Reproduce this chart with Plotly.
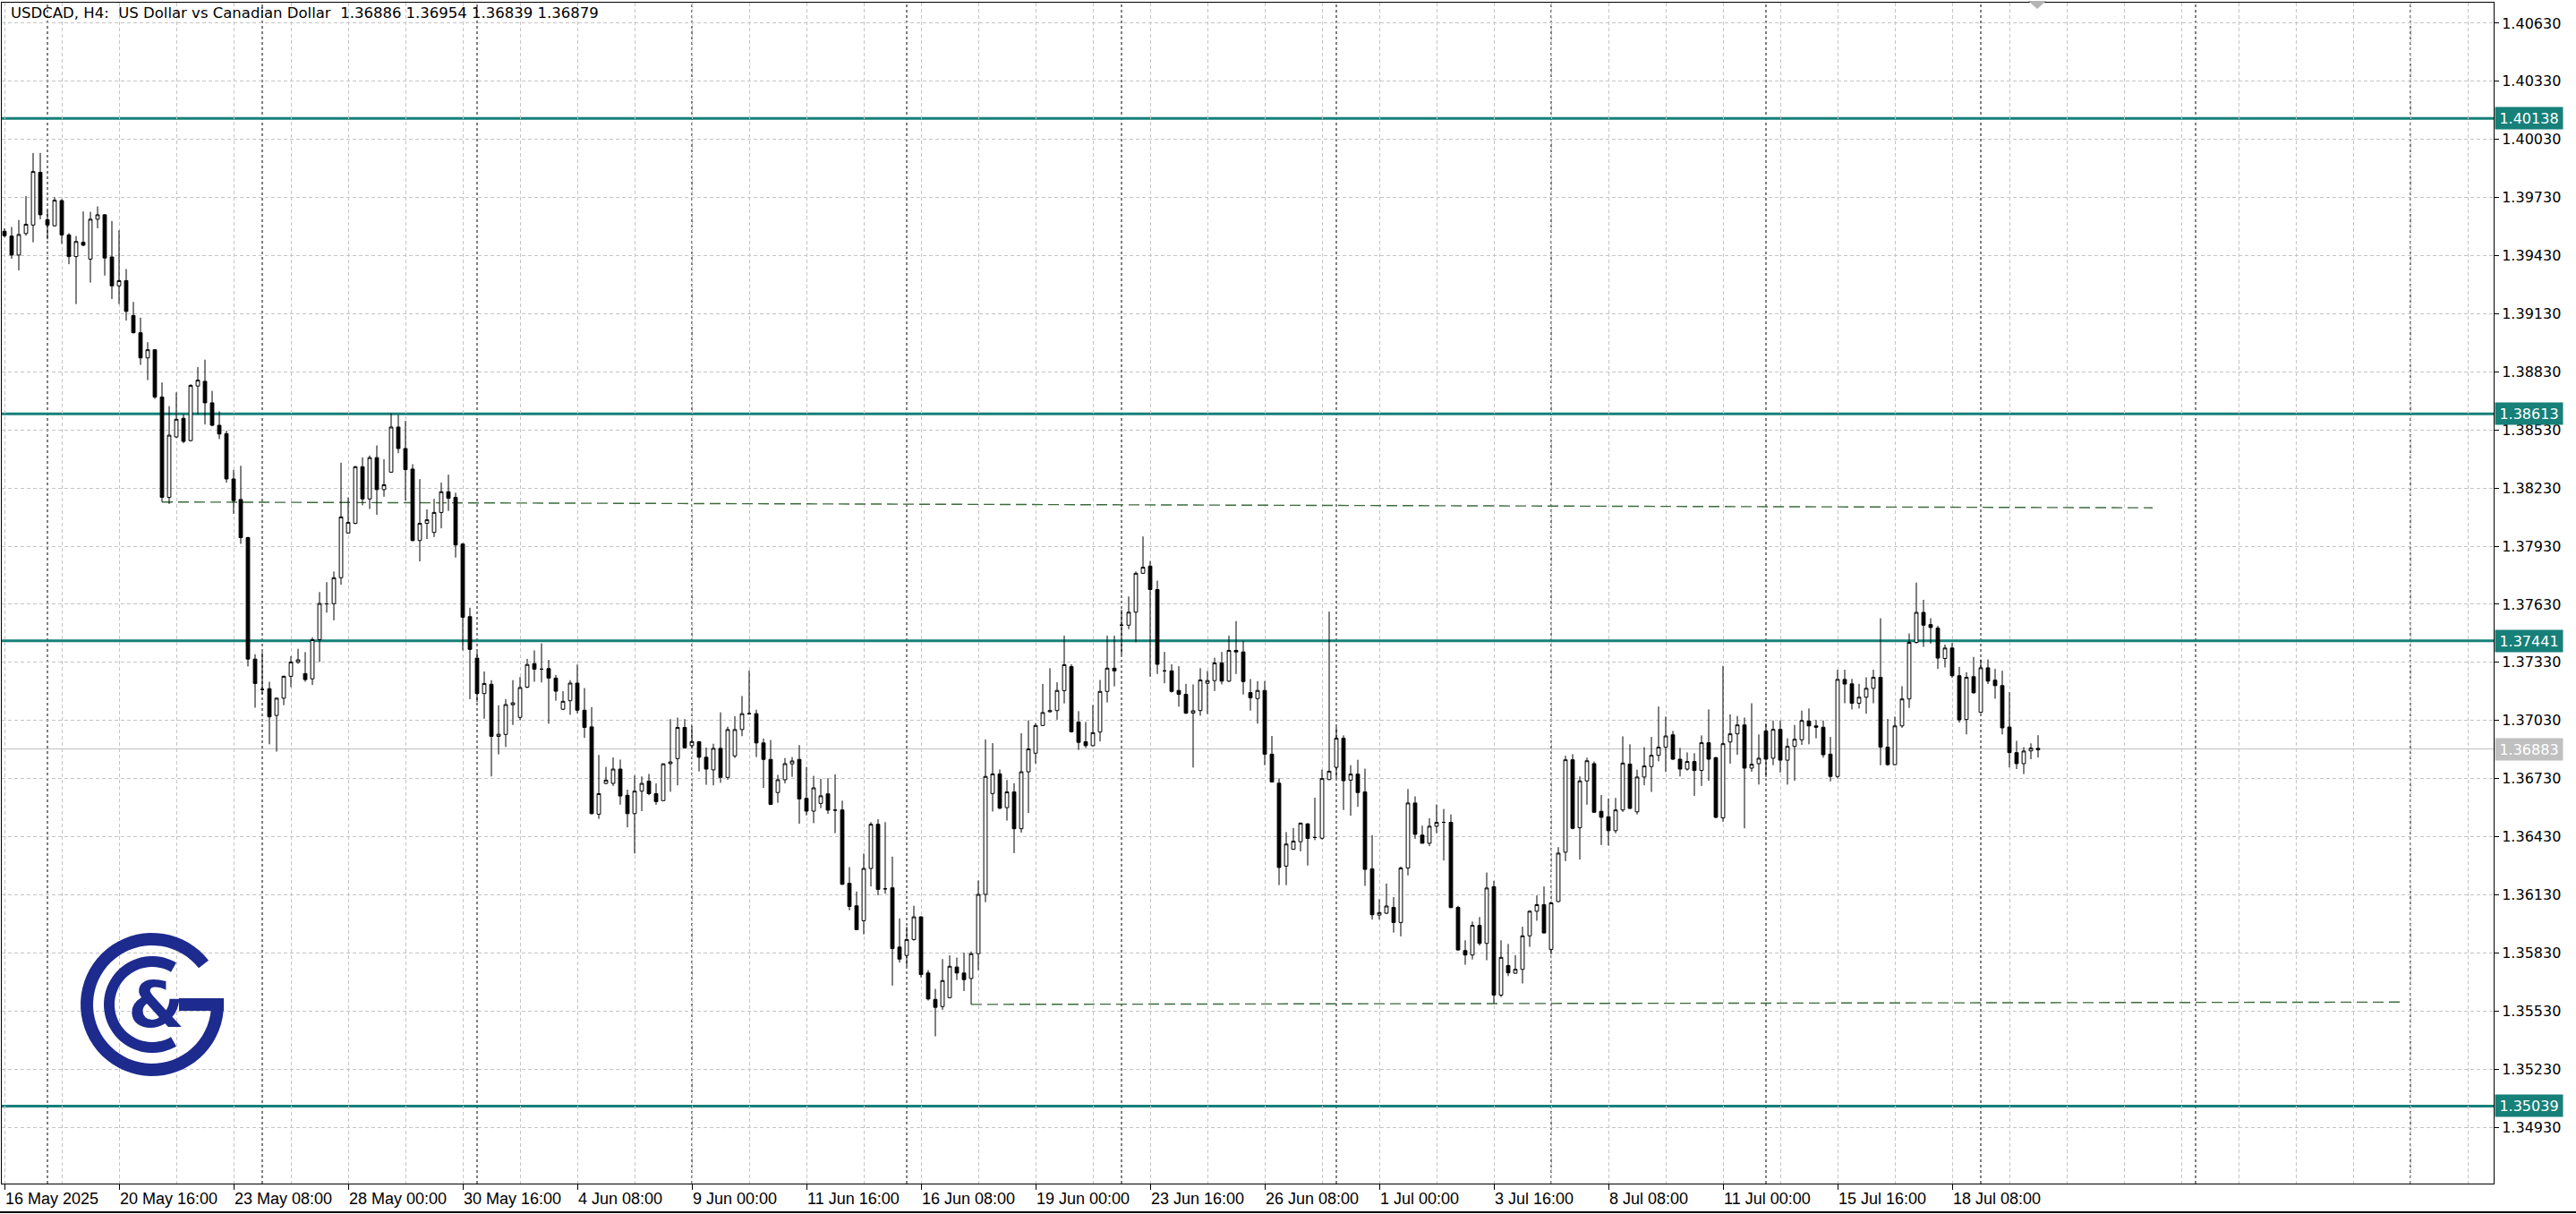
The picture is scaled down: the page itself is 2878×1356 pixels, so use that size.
import math
import plotly.graph_objects as go

# ---------------- data ----------------
opens = [1.39556, 1.39531, 1.39433, 1.39544, 1.39588, 1.39860, 1.39616, 1.39584, 1.39714, 1.39537,
         1.39425, 1.39499, 1.39412, 1.39618, 1.39641, 1.39423, 1.39274, 1.39301, 1.39121, 1.39032,
         1.38902, 1.38944, 1.38700, 1.38182, 1.38494, 1.38590, 1.38475, 1.38757, 1.38781, 1.38670,
         1.38554, 1.38511, 1.38277, 1.38171, 1.37974, 1.37347, 1.37190, 1.37194, 1.37056, 1.37145,
         1.37258, 1.37330, 1.37272, 1.37245, 1.37447, 1.37632, 1.37633, 1.37767, 1.37998, 1.38048,
         1.38340, 1.38174, 1.38387, 1.38222, 1.38312, 1.38545, 1.38434, 1.38328, 1.37959, 1.38048,
         1.38001, 1.38104, 1.38211, 1.38182, 1.37941, 1.37566, 1.37352, 1.37169, 1.37217, 1.36948,
         1.36958, 1.37111, 1.37046, 1.37202, 1.37324, 1.37295, 1.37298, 1.37249, 1.37088, 1.37132,
         1.37223, 1.37083, 1.36997, 1.36546, 1.36705, 1.36705, 1.36779, 1.36644, 1.36549, 1.36665,
         1.36717, 1.36652, 1.36616, 1.36807, 1.36833, 1.36994, 1.36900, 1.36920, 1.36840, 1.36775,
         1.36886, 1.36736, 1.36847, 1.36983, 1.37065, 1.37065, 1.36914, 1.36829, 1.36658, 1.36724,
         1.36806, 1.36829, 1.36628, 1.36562, 1.36602, 1.36651, 1.36567, 1.36568, 1.36189, 1.36073,
         1.35996, 1.36266, 1.36494, 1.36161, 1.36166, 1.35860, 1.35817, 1.35899, 1.36016, 1.35726,
         1.35590, 1.35553, 1.35599, 1.35757, 1.35726, 1.35698, 1.35826, 1.36132, 1.36653, 1.36754,
         1.36580, 1.36661, 1.36471, 1.36765, 1.36861, 1.37004, 1.37075, 1.37081, 1.37184, 1.37308,
         1.37022, 1.36920, 1.36900, 1.36970, 1.37180, 1.37300, 1.37522, 1.37522, 1.37589, 1.37790,
         1.37827, 1.37706, 1.37286, 1.37286, 1.37185, 1.37165, 1.37068, 1.37081, 1.37222, 1.37236,
         1.37327, 1.37233, 1.37392, 1.37384, 1.37174, 1.37143, 1.37185, 1.36856, 1.36706, 1.36278,
         1.36365, 1.36404, 1.36496, 1.36426, 1.36422, 1.36725, 1.36788, 1.36938, 1.36722, 1.36753,
         1.36661, 1.36264, 1.36025, 1.36035, 1.36065, 1.35987, 1.36268, 1.36604, 1.36438, 1.36396,
         1.36484, 1.36504, 1.36504, 1.36065, 1.35842, 1.35819, 1.35972, 1.35879, 1.36172, 1.35612,
         1.35765, 1.35725, 1.35745, 1.35918, 1.36045, 1.36079, 1.35848, 1.36095, 1.36350, 1.36827,
         1.36476, 1.36718, 1.36807, 1.36561, 1.36533, 1.36461, 1.36568, 1.36805, 1.36558, 1.36738,
         1.36792, 1.36850, 1.36892, 1.36956, 1.36830, 1.36779, 1.36818, 1.36772, 1.36915, 1.36838,
         1.36527, 1.36919, 1.36961, 1.37007, 1.36784, 1.36807, 1.36976, 1.36835, 1.36984, 1.36825,
         1.36896, 1.36930, 1.37027, 1.37002, 1.36995, 1.36856, 1.36741, 1.37242, 1.37219, 1.37119,
         1.37150, 1.37196, 1.37253, 1.36892, 1.36802, 1.37002, 1.37141, 1.37433, 1.37588, 1.37525,
         1.37507, 1.37350, 1.37404, 1.37261, 1.37035, 1.37256, 1.37072, 1.37302, 1.37238, 1.37210,
         1.36996, 1.36864, 1.36807, 1.36873, 1.36886]
highs = [1.39571, 1.39578, 1.39614, 1.39737, 1.39960, 1.39960, 1.39663, 1.39731, 1.39722, 1.39546,
         1.39531, 1.39658, 1.39656, 1.39684, 1.39645, 1.39609, 1.39561, 1.39361, 1.39191, 1.39110,
         1.38983, 1.38946, 1.38775, 1.38653, 1.38724, 1.38611, 1.38766, 1.38855, 1.38893, 1.38732,
         1.38626, 1.38526, 1.38324, 1.38345, 1.37978, 1.37372, 1.37383, 1.37230, 1.37149, 1.37262,
         1.37362, 1.37400, 1.37383, 1.37459, 1.37693, 1.37744, 1.37799, 1.38361, 1.38182, 1.38344,
         1.38388, 1.38398, 1.38450, 1.38379, 1.38616, 1.38608, 1.38577, 1.38353, 1.38276, 1.38120,
         1.38174, 1.38258, 1.38299, 1.38206, 1.37946, 1.37612, 1.37384, 1.37283, 1.37238, 1.37108,
         1.37140, 1.37238, 1.37254, 1.37348, 1.37392, 1.37428, 1.37343, 1.37265, 1.37181, 1.37238,
         1.37319, 1.37197, 1.37099, 1.36852, 1.36790, 1.36839, 1.36828, 1.36673, 1.36746, 1.36741,
         1.36754, 1.36705, 1.36809, 1.37037, 1.37045, 1.37037, 1.37002, 1.36924, 1.36890, 1.36910,
         1.37072, 1.36998, 1.37052, 1.37156, 1.37287, 1.37086, 1.36937, 1.36929, 1.36749, 1.36836,
         1.36841, 1.36903, 1.36790, 1.36744, 1.36729, 1.36732, 1.36752, 1.36616, 1.36273, 1.36147,
         1.36343, 1.36505, 1.36520, 1.36505, 1.36327, 1.36008, 1.35965, 1.36073, 1.36019, 1.35741,
         1.35644, 1.35798, 1.35817, 1.35806, 1.35831, 1.35837, 1.36204, 1.36932, 1.36913, 1.36777,
         1.36723, 1.36706, 1.36964, 1.37031, 1.37017, 1.37219, 1.37300, 1.37228, 1.37468, 1.37320,
         1.37078, 1.37022, 1.37110, 1.37239, 1.37468, 1.37468, 1.37602, 1.37670, 1.37799, 1.37980,
         1.37853, 1.37752, 1.37384, 1.37320, 1.37310, 1.37219, 1.37216, 1.37300, 1.37286, 1.37354,
         1.37384, 1.37468, 1.37543, 1.37441, 1.37244, 1.37233, 1.37233, 1.36950, 1.36732, 1.36454,
         1.36475, 1.36503, 1.36500, 1.36631, 1.36776, 1.37592, 1.36996, 1.36953, 1.36799, 1.36827,
         1.36781, 1.36438, 1.36107, 1.36188, 1.36118, 1.36276, 1.36676, 1.36638, 1.36487, 1.36525,
         1.36596, 1.36573, 1.36545, 1.36073, 1.35895, 1.35992, 1.36015, 1.36245, 1.36202, 1.35895,
         1.35876, 1.35818, 1.35965, 1.36050, 1.36127, 1.36173, 1.36092, 1.36376, 1.36848, 1.36856,
         1.36741, 1.36838, 1.36818, 1.36645, 1.36627, 1.36630, 1.36948, 1.36907, 1.36776, 1.36892,
         1.36945, 1.37102, 1.37050, 1.36976, 1.36888, 1.36865, 1.36861, 1.36953, 1.37087, 1.36842,
         1.37312, 1.37061, 1.37053, 1.37045, 1.37119, 1.36958, 1.37015, 1.37030, 1.37030, 1.36938,
         1.37007, 1.37081, 1.37092, 1.37033, 1.37030, 1.36945, 1.37292, 1.37292, 1.37245, 1.37219,
         1.37253, 1.37292, 1.37558, 1.37038, 1.37050, 1.37207, 1.37479, 1.37742, 1.37653, 1.37558,
         1.37519, 1.37422, 1.37430, 1.37307, 1.37279, 1.37358, 1.37345, 1.37345, 1.37296, 1.37287,
         1.37176, 1.36925, 1.36892, 1.36912, 1.36954]
lows = [1.39524, 1.39414, 1.39354, 1.39533, 1.39499, 1.39618, 1.39514, 1.39580, 1.39491, 1.39386,
        1.39180, 1.39478, 1.39291, 1.39571, 1.39327, 1.39206, 1.39180, 1.39095, 1.39028, 1.38866,
        1.38787, 1.38690, 1.38158, 1.38148, 1.38488, 1.38462, 1.38471, 1.38611, 1.38558, 1.38549,
        1.38483, 1.38258, 1.38097, 1.37942, 1.37309, 1.37096, 1.37166, 1.36907, 1.36869, 1.37109,
        1.37202, 1.37323, 1.37230, 1.37213, 1.37332, 1.37587, 1.37547, 1.37731, 1.37995, 1.38043,
        1.38141, 1.38122, 1.38092, 1.38185, 1.38310, 1.38410, 1.38165, 1.37955, 1.37851, 1.37967,
        1.37977, 1.38022, 1.38112, 1.37871, 1.37392, 1.37140, 1.37124, 1.37039, 1.36741, 1.36855,
        1.36893, 1.37007, 1.37031, 1.37197, 1.37230, 1.37226, 1.37013, 1.37132, 1.37083, 1.37059,
        1.37067, 1.36940, 1.36545, 1.36522, 1.36701, 1.36692, 1.36595, 1.36478, 1.36343, 1.36562,
        1.36644, 1.36595, 1.36613, 1.36662, 1.36695, 1.36886, 1.36890, 1.36767, 1.36698, 1.36695,
        1.36708, 1.36724, 1.36836, 1.36949, 1.37060, 1.36841, 1.36682, 1.36593, 1.36605, 1.36705,
        1.36739, 1.36497, 1.36540, 1.36500, 1.36577, 1.36548, 1.36448, 1.36181, 1.36050, 1.35948,
        1.35926, 1.36173, 1.36127, 1.36135, 1.35661, 1.35780, 1.35761, 1.35893, 1.35703, 1.35584,
        1.35399, 1.35536, 1.35595, 1.35690, 1.35633, 1.35564, 1.35741, 1.36092, 1.36560, 1.36572,
        1.36513, 1.36345, 1.36451, 1.36552, 1.36807, 1.37001, 1.37071, 1.37034, 1.37118, 1.36967,
        1.36878, 1.36888, 1.36896, 1.36922, 1.37123, 1.37206, 1.37370, 1.37501, 1.37434, 1.37787,
        1.37256, 1.37270, 1.37222, 1.37174, 1.37101, 1.37063, 1.36787, 1.37054, 1.37063, 1.37182,
        1.37216, 1.37229, 1.37270, 1.37164, 1.37081, 1.37014, 1.36799, 1.36710, 1.36180, 1.36180,
        1.36362, 1.36354, 1.36281, 1.36412, 1.36415, 1.36722, 1.36730, 1.36568, 1.36538, 1.36584,
        1.36176, 1.36002, 1.36002, 1.36030, 1.35935, 1.35915, 1.36230, 1.36419, 1.36395, 1.36381,
        1.36448, 1.36307, 1.36061, 1.35842, 1.35769, 1.35796, 1.35868, 1.35792, 1.35569, 1.35602,
        1.35710, 1.35722, 1.35672, 1.35861, 1.35996, 1.35930, 1.35822, 1.36092, 1.36304, 1.36468,
        1.36312, 1.36595, 1.36553, 1.36387, 1.36384, 1.36448, 1.36558, 1.36573, 1.36545, 1.36695,
        1.36661, 1.36819, 1.36764, 1.36827, 1.36741, 1.36771, 1.36641, 1.36692, 1.36719, 1.36525,
        1.36507, 1.36807, 1.36853, 1.36473, 1.36765, 1.36699, 1.36738, 1.36799, 1.36761, 1.36699,
        1.36719, 1.36904, 1.36907, 1.36938, 1.36838, 1.36715, 1.36730, 1.37119, 1.37087, 1.37092,
        1.37065, 1.37119, 1.36799, 1.36796, 1.36799, 1.36992, 1.37095, 1.37427, 1.37410, 1.37427,
        1.37296, 1.37304, 1.37250, 1.37019, 1.36958, 1.37168, 1.37068, 1.37218, 1.37142, 1.36958,
        1.36787, 1.36779, 1.36753, 1.36830, 1.36839]
closes = [1.39533, 1.39433, 1.39539, 1.39592, 1.39864, 1.39641, 1.39588, 1.39716, 1.39537, 1.39425,
          1.39503, 1.39484, 1.39618, 1.39641, 1.39418, 1.39274, 1.39301, 1.39142, 1.39032, 1.38902,
          1.38944, 1.38700, 1.38182, 1.38503, 1.38585, 1.38471, 1.38760, 1.38787, 1.38670, 1.38554,
          1.38509, 1.38277, 1.38165, 1.37974, 1.37347, 1.37221, 1.37190, 1.37049, 1.37145, 1.37258,
          1.37332, 1.37343, 1.37241, 1.37447, 1.37634, 1.37632, 1.37767, 1.38081, 1.38053, 1.38340,
          1.38174, 1.38387, 1.38222, 1.38247, 1.38545, 1.38434, 1.38325, 1.37959, 1.38048, 1.38066,
          1.38104, 1.38211, 1.38177, 1.37936, 1.37563, 1.37397, 1.37169, 1.37221, 1.36948, 1.36959,
          1.37112, 1.37121, 1.37200, 1.37319, 1.37295, 1.37295, 1.37249, 1.37181, 1.37129, 1.37223,
          1.37083, 1.36994, 1.36549, 1.36652, 1.36722, 1.36779, 1.36640, 1.36549, 1.36665, 1.36705,
          1.36652, 1.36611, 1.36806, 1.36816, 1.36994, 1.36889, 1.36921, 1.36840, 1.36779, 1.36886,
          1.36736, 1.36983, 1.36983, 1.37065, 1.37065, 1.36914, 1.36829, 1.36597, 1.36724, 1.36807,
          1.36821, 1.36625, 1.36562, 1.36682, 1.36641, 1.36567, 1.36567, 1.36184, 1.36070, 1.35950,
          1.36266, 1.36494, 1.36158, 1.36161, 1.35852, 1.35798, 1.35899, 1.36016, 1.35718, 1.35592,
          1.35549, 1.35687, 1.35761, 1.35726, 1.35692, 1.35826, 1.36132, 1.36741, 1.36754, 1.36577,
          1.36661, 1.36471, 1.36765, 1.36883, 1.37004, 1.37071, 1.37081, 1.37185, 1.37318, 1.36972,
          1.36917, 1.36900, 1.36967, 1.37180, 1.37300, 1.37286, 1.37522, 1.37589, 1.37790, 1.37821,
          1.37706, 1.37320, 1.37286, 1.37180, 1.37165, 1.37068, 1.37080, 1.37239, 1.37236, 1.37327,
          1.37233, 1.37392, 1.37384, 1.37231, 1.37147, 1.37185, 1.36856, 1.36712, 1.36271, 1.36392,
          1.36407, 1.36500, 1.36421, 1.36426, 1.36730, 1.36768, 1.36938, 1.36719, 1.36753, 1.36658,
          1.36261, 1.36027, 1.36038, 1.36072, 1.35987, 1.36268, 1.36604, 1.36442, 1.36396, 1.36484,
          1.36504, 1.36504, 1.36064, 1.35845, 1.35819, 1.35972, 1.35879, 1.36165, 1.35612, 1.35807,
          1.35727, 1.35745, 1.35918, 1.36045, 1.36079, 1.35933, 1.36088, 1.36345, 1.36827, 1.36473,
          1.36718, 1.36822, 1.36556, 1.36530, 1.36461, 1.36568, 1.36810, 1.36576, 1.36738, 1.36795,
          1.36850, 1.36892, 1.36950, 1.36830, 1.36779, 1.36818, 1.36772, 1.36915, 1.36830, 1.36530,
          1.36910, 1.36961, 1.37007, 1.36784, 1.36804, 1.36835, 1.36830, 1.36984, 1.36825, 1.36896,
          1.36933, 1.37030, 1.37002, 1.36995, 1.36853, 1.36741, 1.37242, 1.37218, 1.37119, 1.37150,
          1.37196, 1.37253, 1.36892, 1.36802, 1.37002, 1.37141, 1.37433, 1.37588, 1.37522, 1.37510,
          1.37352, 1.37404, 1.37261, 1.37033, 1.37253, 1.37173, 1.37302, 1.37233, 1.37210, 1.36992,
          1.36864, 1.36807, 1.36872, 1.36887, 1.36879]
bar_index = list(range(len(opens)))

xtick_bars = [0, 16, 32, 48, 64, 80, 96, 112, 128, 144, 160, 176, 192, 208, 224, 240, 256, 272]
xtick_labels = ["16 May 2025", "20 May 16:00", "23 May 08:00", "28 May 00:00", "30 May 16:00",
                "4 Jun 08:00", "9 Jun 00:00", "11 Jun 16:00", "16 Jun 08:00", "19 Jun 00:00",
                "23 Jun 16:00", "26 Jun 08:00", "1 Jul 00:00", "3 Jul 16:00", "8 Jul 08:00",
                "11 Jul 00:00", "15 Jul 16:00", "18 Jul 08:00"]
ytick_labels = ["1.34930", "1.35230", "1.35530", "1.35830", "1.36130", "1.36430", "1.36730",
                "1.37030", "1.37330", "1.37630", "1.37930", "1.38230", "1.38530", "1.38830",
                "1.39130", "1.39430", "1.39730", "1.40030", "1.40330", "1.40630"]
level_prices = [1.40138, 1.38613, 1.37441, 1.35039]
last_price = 1.36883
week_start_bars = [6, 36, 66, 96, 126, 156, 186, 216, 246, 276, 306, 336]
grid_bars = list(range(8, 348, 8))
trend_upper = [(22, 1.38158), (300, 1.38128)]
trend_lower = [(135, 1.35564), (335, 1.35576)]
title_text = "USDCAD, H4:&nbsp;&nbsp;US Dollar vs Canadian Dollar&nbsp;&nbsp;1.36886 1.36954 1.36839 1.36879"

# ---------------- layout constants ----------------
W, H = 2878, 1356
ML, MR, MT, MB = 2, 92, 3, 34
PW, PH = W - ML - MR, H - MT - MB
X_RANGE = [-0.375, 347.625]
Y_RANGE = [1.34639, 1.40736]
TEAL = "#168079"
GRID = "#c4c4c4"
BLUE = "#1d2b8e"


def ppx(x):
    return (x - ML) / PW


def ppy(y):
    return 1 - (y - MT) / PH


fig = go.Figure()
fig.add_trace(go.Candlestick(
    x=bar_index, open=opens, high=highs, low=lows, close=closes,
    increasing=dict(line=dict(color="black", width=1), fillcolor="white"),
    decreasing=dict(line=dict(color="black", width=1), fillcolor="black"),
    whiskerwidth=0, hoverinfo="skip", showlegend=False,
))

shapes = []
for w in week_start_bars:
    shapes.append(dict(type="line", xref="x", yref="paper", x0=w, x1=w, y0=0, y1=1,
                       line=dict(color="black", width=1, dash="3px,3px"), layer="between"))
shapes.append(dict(type="line", xref="paper", yref="y", x0=0, x1=1, y0=last_price, y1=last_price,
                   line=dict(color="#c0c0c0", width=1), layer="between"))
for lv in level_prices:
    shapes.append(dict(type="line", xref="paper", yref="y", x0=0, x1=1, y0=lv, y1=lv,
                       line=dict(color=TEAL, width=3), layer="between"))
for tl in (trend_upper, trend_lower):
    shapes.append(dict(type="line", xref="x", yref="y", x0=tl[0][0], y0=tl[0][1], x1=tl[1][0], y1=tl[1][1],
                       line=dict(color="#3a6a3a", width=1.4, dash="12px,6px"), layer="between"))

# window bottom line and chart-shift marker
shapes.append(dict(type="line", xref="paper", yref="paper", x0=ppx(0), x1=ppx(2878), y0=ppy(1354), y1=ppy(1354),
                   line=dict(color="black", width=2)))
tri = [(2266, 1), (2286, 1), (2276, 10)]
shapes.append(dict(type="path", xref="paper", yref="paper",
                   path="M " + " L ".join(f"{ppx(a)},{ppy(b)}" for a, b in tri) + " Z",
                   fillcolor="#b4b4b4", line=dict(width=0)))


def arc_band(cx, cy, r1, r2, a0, a1, n=60):
    pts = []
    for k in range(n + 1):
        a = math.radians(a0 + (a1 - a0) * k / n)
        pts.append((cx + r2 * math.cos(a), cy - r2 * math.sin(a)))
    for k in range(n + 1):
        a = math.radians(a1 - (a1 - a0) * k / n)
        pts.append((cx + r1 * math.cos(a), cy - r1 * math.sin(a)))
    return "M " + " L ".join(f"{ppx(x)},{ppy(y)}" for x, y in pts) + " Z"


LCX, LCY = 170, 1122
shapes.append(dict(type="path", xref="paper", yref="paper", path=arc_band(LCX, LCY, 66, 80, 38, 360),
                   fillcolor=BLUE, line=dict(width=0)))
shapes.append(dict(type="path", xref="paper", yref="paper", path=arc_band(LCX, LCY, 42, 54, 60, 300),
                   fillcolor=BLUE, line=dict(width=0)))
bar = [(LCX + 30, LCY - 7), (LCX + 80, LCY - 7), (LCX + 80, LCY + 7), (LCX + 30, LCY + 7)]
shapes.append(dict(type="path", xref="paper", yref="paper",
                   path="M " + " L ".join(f"{ppx(x)},{ppy(y)}" for x, y in bar) + " Z",
                   fillcolor=BLUE, line=dict(width=0)))

annotations = []
for lv in level_prices:
    annotations.append(dict(x=1, xref="paper", xanchor="left", xshift=1, y=lv, yref="y", yanchor="middle",
                            text=f"{lv:.5f}", showarrow=False, bgcolor=TEAL, width=71, height=20, borderpad=2,
                            font=dict(family="DejaVu Sans", size=16, color="white")))
annotations.append(dict(x=1, xref="paper", xanchor="left", xshift=1, y=last_price, yref="y", yanchor="middle",
                        text=f"{last_price:.5f}", showarrow=False, bgcolor="#c0c0c0", width=71, height=20,
                        borderpad=2, font=dict(family="DejaVu Sans", size=16, color="white")))
annotations.append(dict(x=0, xref="paper", xanchor="left", xshift=8, y=1, yref="paper", yanchor="top", yshift=0,
                        text=title_text, showarrow=False,
                        font=dict(family="DejaVu Sans", size=16.5, color="black")))
annotations.append(dict(x=ppx(LCX + 4), y=ppy(LCY), xref="paper", yref="paper", xanchor="center",
                        yanchor="middle", text="<b>&amp;</b>",
                        showarrow=False, font=dict(family="DejaVu Sans", size=72, color=BLUE)))

fig.update_layout(
    width=W, height=H, margin=dict(l=ML, r=MR, t=MT, b=MB, pad=0, autoexpand=False),
    paper_bgcolor="white", plot_bgcolor="white", showlegend=False, boxgap=0.32,
    shapes=shapes, annotations=annotations,
    xaxis=dict(range=X_RANGE, tickmode="array", tickvals=xtick_bars, ticktext=xtick_labels,
               ticks="outside", ticklen=6, tickcolor="black", ticklabelposition="outside right",
               tickangle=0, automargin=False,
               tickfont=dict(family="Liberation Sans Narrow, Liberation Sans, sans-serif", size=18, color="black"),
               showgrid=True, gridcolor=GRID, griddash="4px,3px", gridwidth=1,
               minor=dict(tickvals=grid_bars, showgrid=True, gridcolor=GRID, griddash="4px,3px", ticks=""),
               showline=True, linecolor="black", linewidth=1, mirror=True, zeroline=False,
               rangeslider=dict(visible=False), fixedrange=True),
    yaxis=dict(side="right", range=Y_RANGE, tickmode="array", tickvals=[float(t) for t in ytick_labels],
               ticktext=ytick_labels, ticks="outside", ticklen=5, tickcolor="black", automargin=False,
               tickfont=dict(family="DejaVu Sans", size=16, color="black"),
               showgrid=True, gridcolor=GRID, griddash="4px,3px", gridwidth=1,
               showline=True, linecolor="black", linewidth=1, mirror=True, zeroline=False, fixedrange=True),
)
fig.write_html("out.html", config={"displayModeBar": False},
               post_script="document.body.style.margin='0';document.body.style.overflow='hidden';")
